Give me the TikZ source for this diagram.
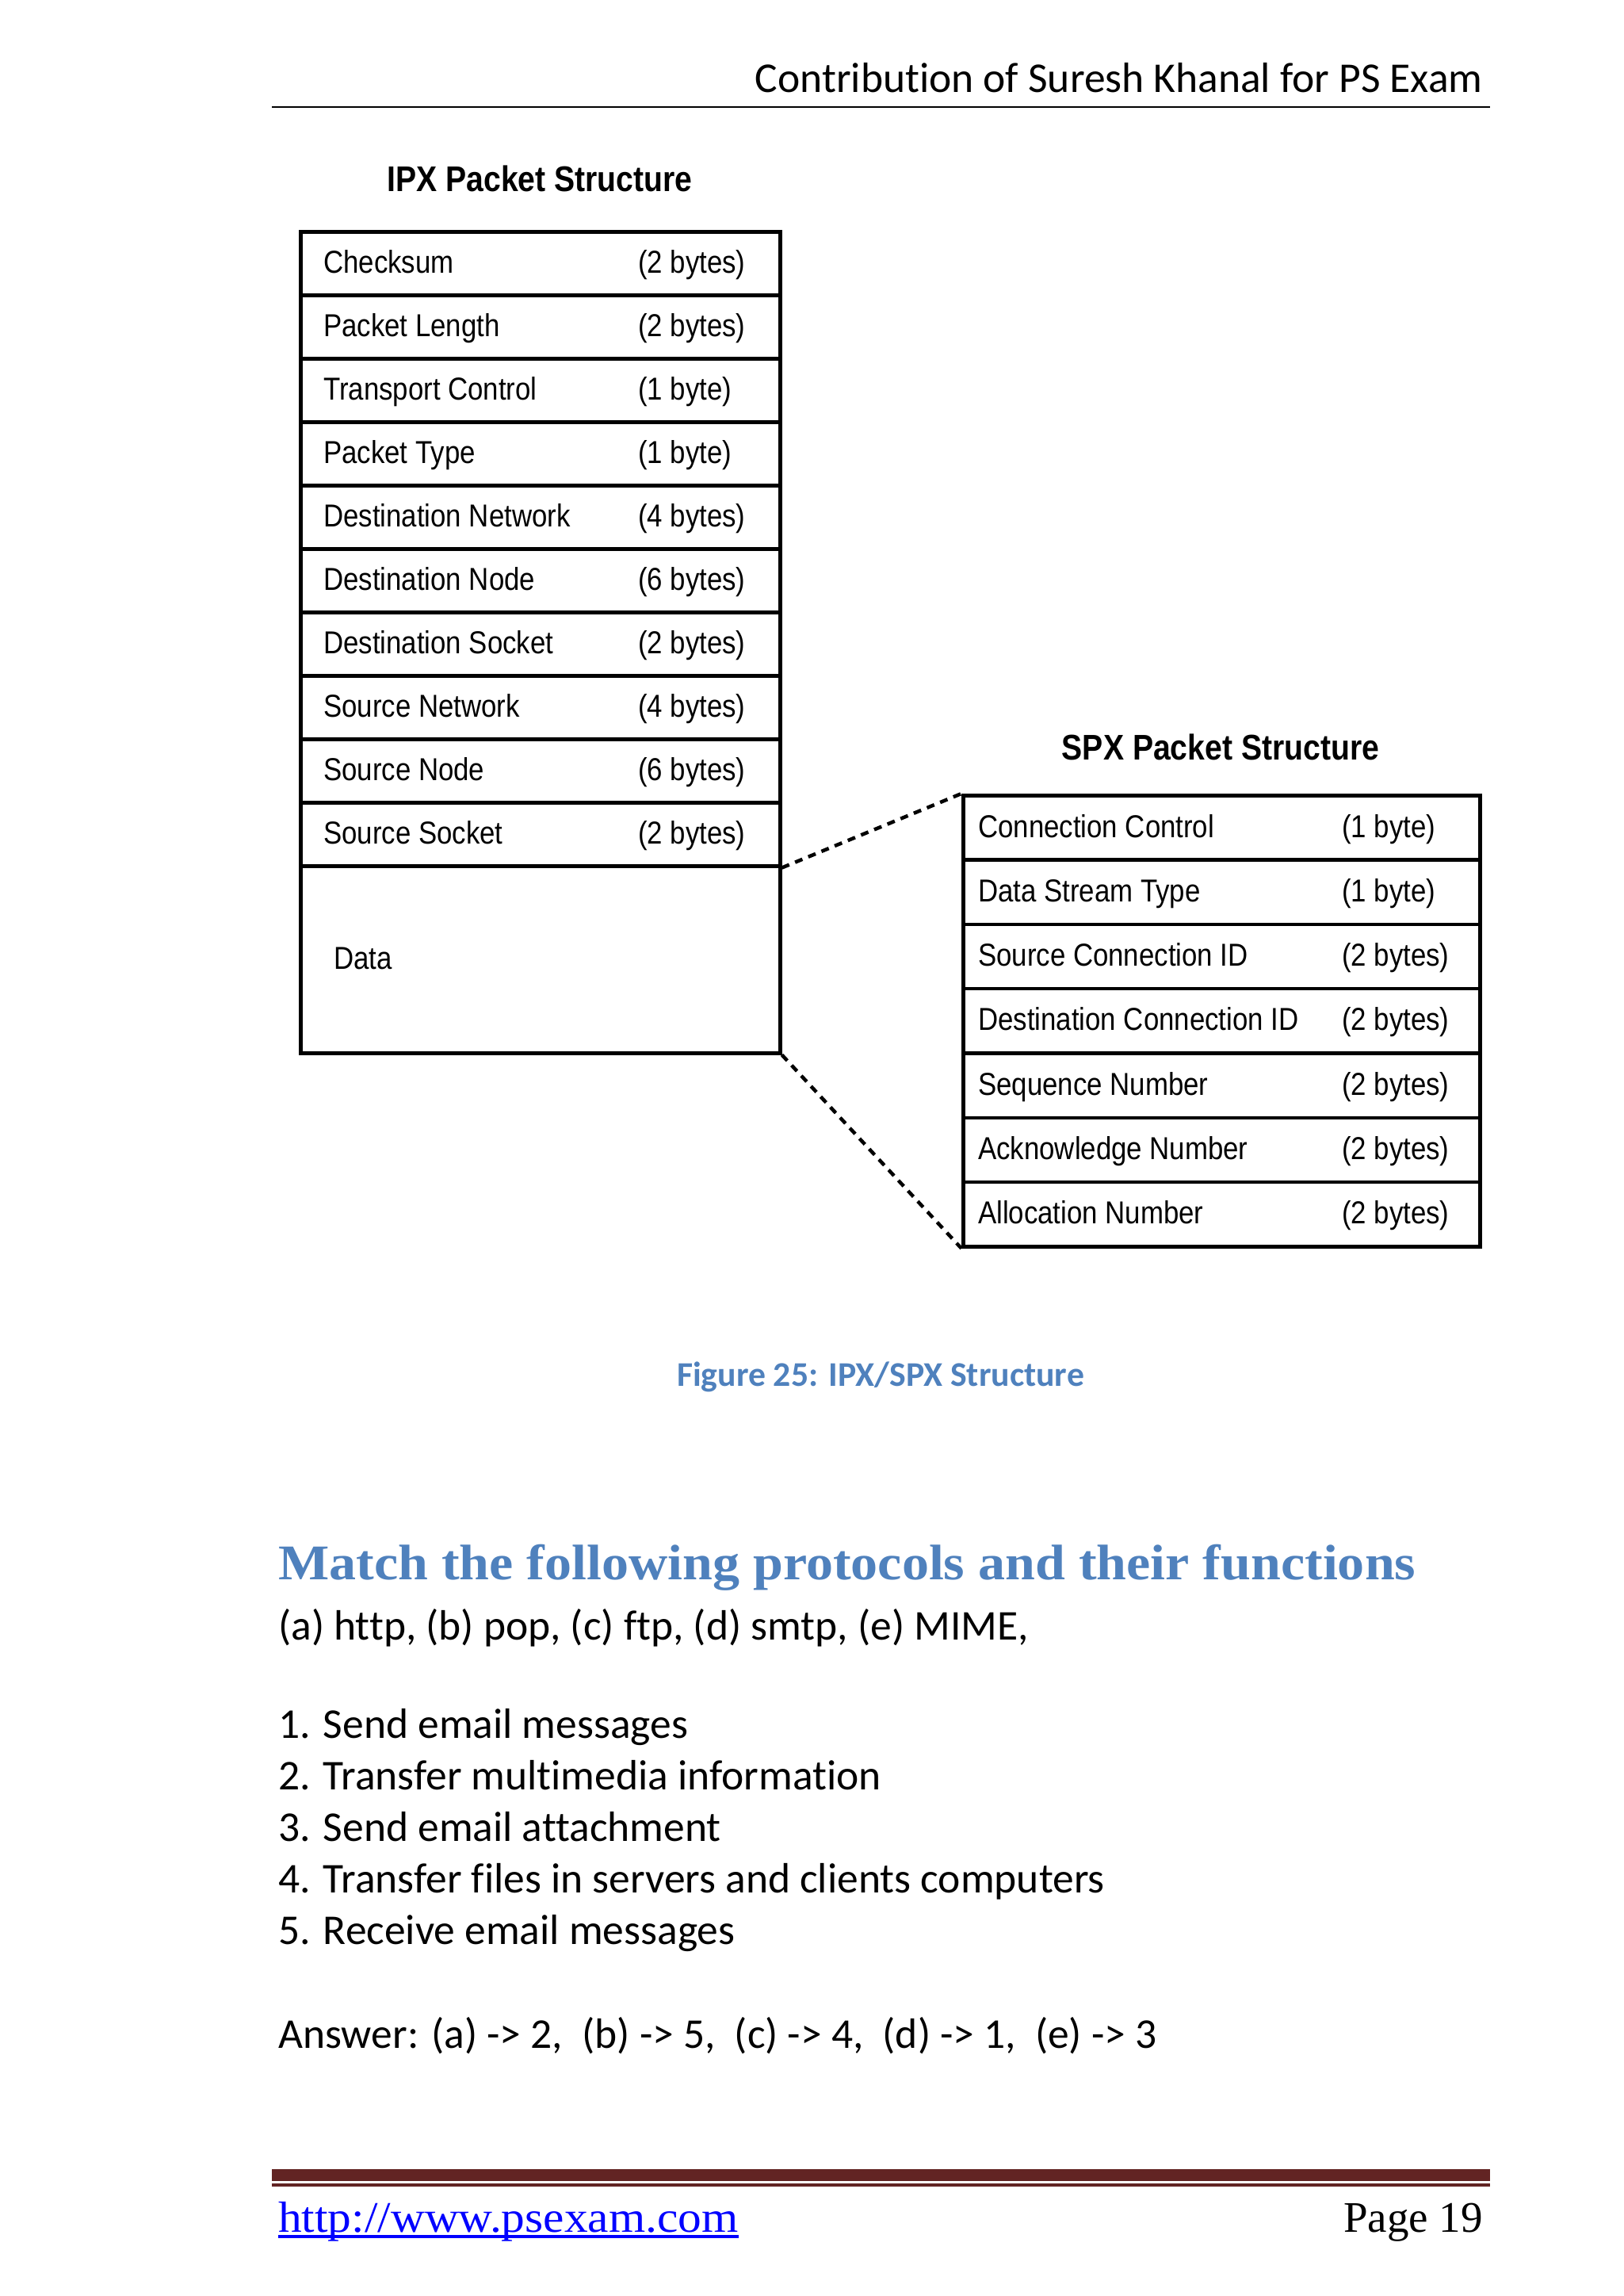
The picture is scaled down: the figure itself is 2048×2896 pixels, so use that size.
\documentclass[tikz,border=0pt]{standalone}
\usepackage{fontspec}
\newfontfamily\boxfont[FakeStretch=0.87]{Liberation Sans}
\newfontfamily\calfont[RawFeature={-liga}]{Carlito}
\newfontfamily\serfont{Liberation Serif}
\newfontfamily\headfont[FakeStretch=1.08]{Liberation Serif}
\newfontfamily\urlfont[FakeStretch=1.08]{Liberation Serif}
\definecolor{accblue}{HTML}{4F81BD}
\definecolor{footred}{HTML}{622423}
\definecolor{linkblue}{HTML}{0000FF}
\begin{document}
\begin{tikzpicture}[x=1pt,y=-1pt,
  rowbox/.style={draw=black,line width=4.5pt,minimum height=#1,inner sep=0pt,anchor=north west},
  fieldtxt/.style={anchor=base west,inner sep=0pt,font=\boxfont\fontsize{40}{48}\selectfont},
  titletxt/.style={anchor=base,inner sep=0pt,font=\boxfont\bfseries\fontsize{45}{54}\selectfont},
  zoomline/.style={line width=4.5pt,dash pattern=on 10pt off 8pt},
  bodytxt/.style={anchor=base west,inner sep=0pt,font=\calfont\fontsize{53.5}{64}\selectfont}]
\useasboundingbox (0,0) rectangle (2048,2896);
\fill[white] (0,0) rectangle (2048,2896);
% header
\node[anchor=base east,inner sep=0pt,font=\calfont\fontsize{53.5}{64}\selectfont] (hdr) at (1871,116) {Contribution of Suresh Khanal for PS Exam};
\draw[line width=2.5pt] (343,135) -- (1880,135);
% IPX
\node[titletxt] (ipxtitle) at (681,241) {IPX Packet Structure};
\foreach \n/\b [count=\i] in {Checksum/(2 bytes),Packet Length/(2 bytes),Transport Control/(1 byte),Packet Type/(1 byte),Destination Network/(4 bytes),Destination Node/(6 bytes),Destination Socket/(2 bytes),Source Network/(4 bytes),Source Node/(6 bytes),Source Socket/(2 bytes)}{
  \node[rowbox=80pt,minimum width=605pt] (ipx\i) at (377,{290+80*(\i-1)}) {};
  \node[fieldtxt] (ipxn\i) at (408,{290+80*(\i-1)+54}) {\n};
  \node[fieldtxt] (ipxb\i) at (805,{290+80*(\i-1)+54}) {\b};
}
\node[rowbox=236pt,minimum width=605pt] (ipxdata) at (377,1090) {};
\node[fieldtxt] (datatxt) at (421,1222) {Data};
% SPX
\node[titletxt] (spxtitle) at (1540,958) {SPX Packet Structure};
\foreach \n/\b [count=\i] in {Connection Control/(1 byte),Data Stream Type/(1 byte),Source Connection ID/(2 bytes),Destination Connection ID/(2 bytes),Sequence Number/(2 bytes),Acknowledge Number/(2 bytes),Allocation Number/(2 bytes)}{
  \node[rowbox=81.3pt,minimum width=652pt] (spx\i) at (1213,{1001+81.3*(\i-1)}) {};
  \node[fieldtxt] (spxn\i) at (1234,{1001+81.3*(\i-1)+55}) {\n};
  \node[fieldtxt] (spxb\i) at (1693,{1001+81.3*(\i-1)+55}) {\b};
}
\draw[zoomline] (ipx10.south east) -- (spx1.north west);
\draw[zoomline] (ipxdata.south east) -- (spx7.south west);
% caption
\node[anchor=base,inner sep=0pt,text=accblue,font=\calfont\bfseries\fontsize{43.7}{52}\selectfont] (cap) at (1111,1748) {Figure 25: IPX/SPX Structure};
% question
\node[anchor=base west,inner sep=0pt,text=accblue,font=\headfont\bfseries\fontsize{63}{76}\selectfont] (qhead) at (351,1992) {Match the following protocols and their functions};
\node[bodytxt] (opts) at (351,2068) {(a) http, (b) pop, (c) ftp, (d) smtp, (e) MIME,};
\node[bodytxt] (l1) at (351,2192) {1. Send email messages};
\node[bodytxt] (l2) at (351,2257) {2. Transfer multimedia information};
\node[bodytxt] (l3) at (351,2322) {3. Send email attachment};
\node[bodytxt] (l4) at (351,2387) {4. Transfer files in servers and clients computers};
\node[bodytxt] (l5) at (351,2452) {5. Receive email messages};
\node[bodytxt] (ans) at (351,2583) {Answer: (a) -> 2,~ (b) -> 5,~ (c) -> 4,~ (d) -> 1,~ (e) -> 3};
% footer
\fill[footred] (343,2736) rectangle (1880,2751);
\fill[footred] (343,2754) rectangle (1880,2758);
\node[anchor=base west,inner sep=0pt,text=linkblue,font=\urlfont\fontsize{55}{66}\selectfont] (url) at (351,2815) {http://www.psexam.com};
\draw[linkblue,line width=4pt] ([yshift=-6pt]url.base west) -- ([yshift=-6pt]url.base east);
\node[anchor=base east,inner sep=0pt,font=\serfont\fontsize{55}{66}\selectfont] (pg) at (1871,2815) {Page 19};
\end{tikzpicture}
\end{document}
